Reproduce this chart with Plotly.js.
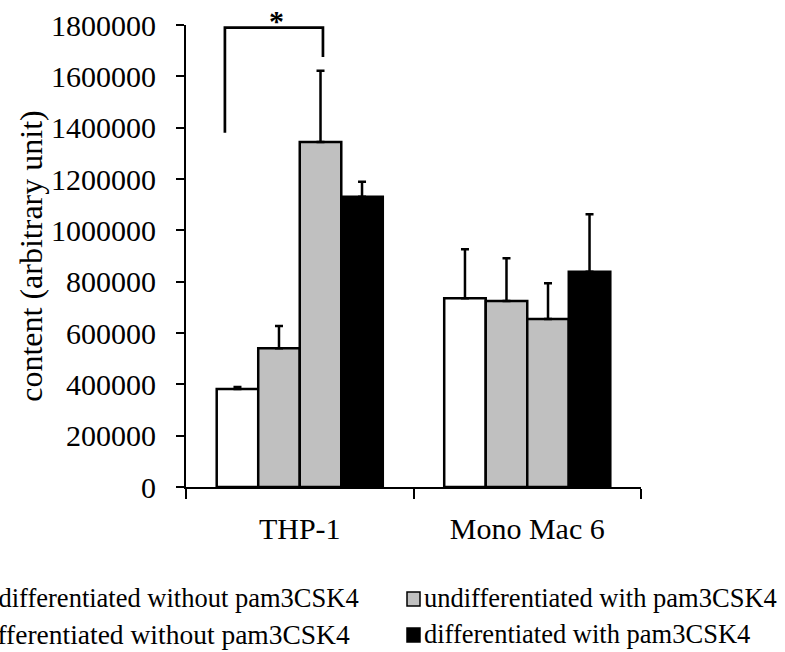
<!DOCTYPE html>
<html>
<head>
<meta charset="utf-8">
<script src="https://cdn.plot.ly/plotly-3.0.1.min.js"></script>
<style>
  html, body { margin: 0; padding: 0; background: #fff; }
  #chart { width: 785px; height: 652px; }
</style>
</head>
<body>
<div id="chart"></div>
<script>
// ---- data ----
var categories = ['THP-1', 'Mono Mac 6'];
var seriesNames = [
  'undifferentiated without pam3CSK4',
  'undifferentiated with pam3CSK4',
  'differentiated without pam3CSK4',
  'differentiated with pam3CSK4'
];
var undiffWithout = [382000, 735000];
var undiffWithoutErr = [8000, 191000];
var undiffWith = [541000, 725000];
var undiffWithErr = [86000, 166000];
var diffWithout = [1344000, 655000];
var diffWithoutErr = [278000, 139000];
var diffWith = [1131000, 839000];
var diffWithErr = [58000, 224000];
var yTickValues = [0, 200000, 400000, 600000, 800000, 1000000, 1200000, 1400000, 1600000, 1800000];
var yTickLabels = ['0', '200000', '400000', '600000', '800000', '1000000', '1200000', '1400000', '1600000', '1800000'];
var significance = '*';

var FONT = '"Liberation Serif", "Times New Roman", Times, serif';

function errs(arr) {
  return {
    type: 'data', symmetric: false, array: arr,
    arrayminus: arr.map(function () { return 0; }),
    color: '#000', thickness: 2.5, width: 4
  };
}
var outline = { color: '#000', width: 2.5 };

var traces = [
  { type: 'bar', name: seriesNames[0], x: categories, y: undiffWithout,
    marker: { color: '#ffffff', line: outline }, error_y: errs(undiffWithoutErr), showlegend: false },
  { type: 'bar', name: seriesNames[1], x: categories, y: undiffWith,
    marker: { color: '#c0c0c0', line: outline }, error_y: errs(undiffWithErr), showlegend: false },
  { type: 'bar', name: seriesNames[2], x: categories, y: diffWithout,
    marker: { color: '#ffffff', line: outline,
      pattern: { shape: '.', size: 2, solidity: 0.5, fgcolor: '#707070', bgcolor: '#ffffff' } },
    error_y: errs(diffWithoutErr), showlegend: false },
  { type: 'bar', name: seriesNames[3], x: categories, y: diffWith,
    marker: { color: '#000000', line: outline }, error_y: errs(diffWithErr), showlegend: false }
];

// legend drawn manually (the reference legend is clipped at the left edge)
var L = 186, W = 455, B = 487, H = 462;
function px(x) { return (x - L) / W; }
function py(y) { return (B - y) / H; }
var legendFont = { family: FONT, size: 26.5, color: '#000' };
var legendFont2 = { family: FONT, size: 27.5, color: '#000' };

var annotations = [
  { xref: 'paper', yref: 'paper', x: px(361), y: py(598), xanchor: 'right', yanchor: 'middle',
    text: seriesNames[0], showarrow: false, font: legendFont },
  { xref: 'paper', yref: 'paper', x: px(422), y: py(598), xanchor: 'left', yanchor: 'middle',
    text: seriesNames[1], showarrow: false, font: legendFont },
  { xref: 'paper', yref: 'paper', x: px(352), y: py(634), xanchor: 'right', yanchor: 'middle',
    text: seriesNames[2], showarrow: false, font: legendFont2 },
  { xref: 'paper', yref: 'paper', x: px(422), y: py(634), xanchor: 'left', yanchor: 'middle',
    text: seriesNames[3], showarrow: false, font: legendFont },
  { xref: 'x', yref: 'y', x: -0.103, y: 1800000, yanchor: 'bottom', xanchor: 'center',
    yshift: -14, text: significance, showarrow: false,
    font: { family: FONT, size: 30, color: '#000', weight: 'bold' } }
];

var shapes = [
  // significance bracket
  { type: 'path', xref: 'x', yref: 'y',
    path: 'M -0.329,1380000 L -0.329,1790000 L 0.102,1790000 L 0.102,1675000',
    line: { color: '#000', width: 2.7 } },
  // legend markers
  { type: 'rect', xref: 'paper', yref: 'paper', x0: px(407), x1: px(420), y0: py(606), y1: py(592),
    fillcolor: '#c0c0c0', line: { color: '#000', width: 1.5 } },
  { type: 'rect', xref: 'paper', yref: 'paper', x0: px(407), x1: px(420), y0: py(642), y1: py(628),
    fillcolor: '#000', line: { color: '#000', width: 1.5 } }
];

var layout = {
  width: 785, height: 652,
  margin: { l: 186, r: 144, t: 25, b: 165, autoexpand: false },
  paper_bgcolor: '#fff', plot_bgcolor: '#fff',
  font: { family: FONT, size: 30, color: '#000' },
  barmode: 'group', bargap: 0.27, bargroupgap: 0,
  showlegend: false,
  xaxis: {
    type: 'category', showline: true, linecolor: '#000', linewidth: 2,
    ticks: 'outside', tickson: 'boundaries', ticklen: 10, tickwidth: 2, tickcolor: '#000',
    showgrid: false, zeroline: false, ticklabelstandoff: 14,
    tickfont: { family: FONT, size: 30, color: '#000' }
  },
  yaxis: {
    range: [0, 1800000], tickvals: yTickValues, ticktext: yTickLabels,
    showline: true, linecolor: '#000', linewidth: 2,
    ticks: 'outside', ticklen: 8, tickwidth: 2, tickcolor: '#000',
    showgrid: false, zeroline: false, ticklabelstandoff: 14,
    tickfont: { family: FONT, size: 30, color: '#000' },
    title: { text: 'content (arbitrary unit)', font: { family: FONT, size: 32, color: '#000' } }
  },
  annotations: annotations,
  shapes: shapes
};

Plotly.newPlot('chart', traces, layout, { displayModeBar: false, staticPlot: true });
</script>
</body>
</html>
